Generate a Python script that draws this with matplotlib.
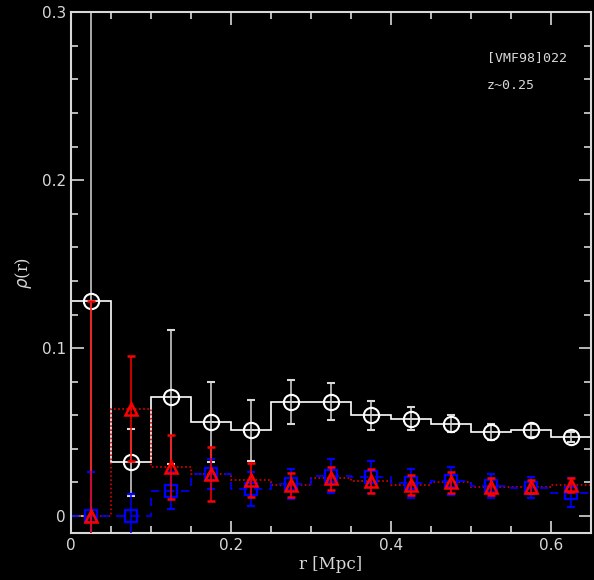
import numpy as np
import matplotlib.pyplot as plt
from matplotlib.ticker import MultipleLocator

# radial bins [Mpc]
r_edges = [0.0, 0.05, 0.10, 0.15, 0.20, 0.25, 0.30, 0.35, 0.40, 0.45, 0.50, 0.55, 0.60, 0.65]
r_mid = [0.025, 0.075, 0.125, 0.175, 0.225, 0.275, 0.325, 0.375, 0.425, 0.475, 0.525, 0.575, 0.625]

# all galaxies (white circles)
rho_all = [0.128, 0.032, 0.071, 0.056, 0.051, 0.068, 0.068, 0.060, 0.058, 0.055, 0.050, 0.051, 0.047]
err_all = [0.20, 0.020, 0.040, 0.024, 0.018, 0.013, 0.011, 0.0085, 0.007, 0.005, 0.005, 0.004, 0.003]

# red triangles
rho_red = [0.0, 0.064, 0.029, 0.025, 0.0215, 0.0185, 0.0225, 0.021, 0.0185, 0.020, 0.0175, 0.0175, 0.0185]
err_red = [0.128, 0.031, 0.019, 0.016, 0.010, 0.007, 0.007, 0.007, 0.006, 0.006, 0.005, 0.004, 0.004]

# blue squares
rho_blue = [0.0, 0.0, 0.015, 0.025, 0.016, 0.019, 0.024, 0.023, 0.0195, 0.021, 0.018, 0.017, 0.014]
err_blue = [0.026, 0.013, 0.011, 0.009, 0.010, 0.009, 0.010, 0.0095, 0.0085, 0.0085, 0.007, 0.0065, 0.0085]

fg = '#d8d8d8'
fig = plt.figure(figsize=(5.94, 5.80), dpi=100, facecolor='black')
ax = fig.add_axes([0.1195, 0.081, 0.8755, 0.898], facecolor='black')

ax.stairs(rho_all, r_edges, color='white', lw=1.2, zorder=2)
ax.stairs(rho_red, r_edges, color='#e00000', lw=1.2, ls=(0, (1, 1.5)), zorder=2)
ax.stairs(rho_blue, r_edges, color='#0000ff', lw=1.2, ls=(0, (5, 4)), zorder=2)

ax.errorbar(r_mid, rho_all, yerr=err_all, fmt='o', mfc='none', mec='white', mew=1.5,
            ms=11, ecolor=fg, elinewidth=1.1, capsize=3, zorder=3)
ax.errorbar(r_mid, rho_blue, yerr=err_blue, fmt='s', mfc='none', mec='#0000ff', mew=1.6,
            ms=8, ecolor='#0000ff', elinewidth=1.1, capsize=3, zorder=4)
ax.errorbar(r_mid, rho_red, yerr=err_red, fmt='^', mfc='none', mec='#ff0000', mew=1.8,
            ms=9, ecolor='#ff0000', elinewidth=1.1, capsize=3, zorder=5)

ax.set_xlim(0, 0.65)
ax.set_ylim(-0.0101, 0.3)
ax.xaxis.set_major_locator(MultipleLocator(0.2))
ax.xaxis.set_minor_locator(MultipleLocator(0.05))
ax.yaxis.set_major_locator(MultipleLocator(0.1))
ax.yaxis.set_minor_locator(MultipleLocator(0.02))
ax.xaxis.set_major_formatter(lambda v, p: '0' if abs(v) < 1e-9 else f'{v:.1f}')
ax.yaxis.set_major_formatter(lambda v, p: '0' if abs(v) < 1e-9 else f'{v:.1f}')

ax.tick_params(which='both', direction='in', top=True, right=True, colors=fg,
               labelcolor=fg, labelsize=11)
ax.tick_params(which='major', length=9, width=1.2)
ax.tick_params(which='minor', length=5, width=1.2)
for s in ax.spines.values():
    s.set_color(fg)
    s.set_linewidth(1.5)

ax.set_xlabel('r [Mpc]', color=fg, fontsize=12, family='DejaVu Serif', labelpad=2)
ax.set_ylabel(r'$\rho$(r)', color=fg, fontsize=12, family='DejaVu Serif', labelpad=6)

ax.text(0.80, 0.912, '[VMF98]022', transform=ax.transAxes, color=fg, fontsize=9.5,
        family='DejaVu Sans Mono', va='center')
ax.text(0.80, 0.86, 'z~0.25', transform=ax.transAxes, color=fg, fontsize=9.5,
        family='DejaVu Sans Mono', va='center')

fig.savefig('out.png', dpi=100, facecolor='black')
